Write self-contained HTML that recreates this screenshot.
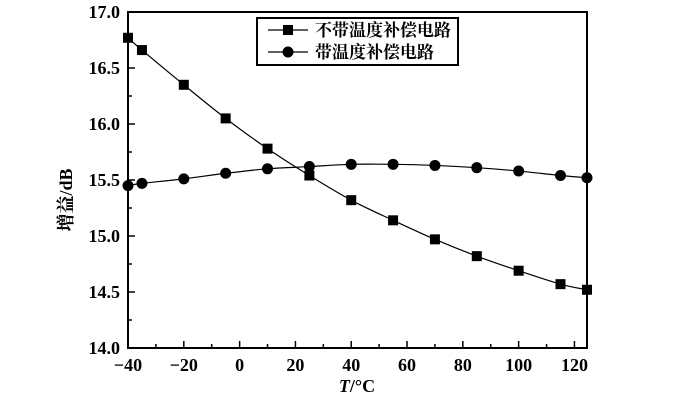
<!DOCTYPE html>
<html><head><meta charset="utf-8"><style>
body{margin:0;background:#fff;}
svg{display:block;font-family:"Liberation Serif","Noto Serif CJK SC",serif;}
</style></head><body>
<svg id="c" width="700" height="400" viewBox="0 0 700 400"></svg>
<script>
const temps=[-40,-35,-20,-5,10,25,40,55,70,85,100,115,124.5];
const gainNoComp=[16.77,16.66,16.35,16.05,15.78,15.54,15.32,15.14,14.97,14.82,14.69,14.57,14.52];
const gainComp=[15.45,15.47,15.51,15.56,15.60,15.62,15.64,15.64,15.63,15.61,15.58,15.54,15.52];
const xTicks=[-40,-20,0,20,40,60,80,100,120];
const yTicks=[14.0,14.5,15.0,15.5,16.0,16.5,17.0];
const seriesNames=["不带温度补偿电路","带温度补偿电路"];
const NS="http://www.w3.org/2000/svg";
const svg=document.getElementById('c');
const L=128,R=587,T=12,B=348,xMin=-40,xMax=124.5,yMin=14,yMax=17;
const sx=v=>L+(v-xMin)/(xMax-xMin)*(R-L);
const sy=v=>B-(v-yMin)/(yMax-yMin)*(B-T);
function mk(tag,attrs,parent){const e=document.createElementNS(NS,tag);for(const k in attrs)e.setAttribute(k,attrs[k]);(parent||svg).appendChild(e);return e;}
const frame=mk('rect',{x:L,y:T,width:R-L,height:B-T,fill:'none',stroke:'#000','stroke-width':2});


for(let v=-40;v<=120;v+=10){const x=sx(v);const major=v%20===0;
 const t=mk('line',{x1:x,x2:x,y1:B,y2:B-(major?7:4),stroke:'#000','stroke-width':1.5});
 
 }
xTicks.forEach(v=>{const t=mk('text',{x:sx(v),y:B+23,'text-anchor':'middle','font-size':18,'font-weight':'bold'});t.textContent=String(v).replace('-','−');
 
 });
for(let v=14;v<=17.001;v+=0.25){const y=sy(v);const major=Math.abs(v*2-Math.round(v*2))<0.01;
 const t=mk('line',{x1:L,x2:L+(major?7:4),y1:y,y2:y,stroke:'#000','stroke-width':1.5});
 
 }
yTicks.forEach(v=>{const t=mk('text',{x:L-8,y:sy(v)+6,'text-anchor':'end','font-size':18,'font-weight':'bold'});t.textContent=v.toFixed(1);
 
 });
const xt=mk('text',{x:357,y:392,'text-anchor':'middle','font-size':18,'font-weight':'bold'});
xt.innerHTML='<tspan font-style="italic">T</tspan>/°C';


const yt=mk('text',{x:0,y:0,'text-anchor':'middle','font-size':18,'font-weight':'bold',transform:'translate(72,200) rotate(-90)'});
yt.textContent='增益/dB';


function smooth(xs,ys){const p=xs.map((x,i)=>[sx(x),sy(ys[i])]);let d='M'+p[0][0]+','+p[0][1];
 for(let i=0;i<p.length-1;i++){const p0=p[i-1]||p[i],p1=p[i],p2=p[i+1],p3=p[i+2]||p2;
 d+=' C'+(p1[0]+(p2[0]-p0[0])/6)+','+(p1[1]+(p2[1]-p0[1])/6)+' '+(p2[0]-(p3[0]-p1[0])/6)+','+(p2[1]-(p3[1]-p1[1])/6)+' '+p2[0]+','+p2[1];}
 return d;}
const l1=mk('path',{d:smooth(temps,gainNoComp),fill:'none',stroke:'#000','stroke-width':1.2});


const l2=mk('path',{d:smooth(temps,gainComp),fill:'none',stroke:'#000','stroke-width':1.2});


temps.forEach((t,i)=>{const m=mk('rect',{x:sx(t)-5,y:sy(gainNoComp[i])-5,width:10,height:10,fill:'#000'});
 
 
 const c=mk('circle',{cx:sx(t),cy:sy(gainComp[i]),r:5.5,fill:'#000'});
 
 });
const lg=mk('g',{});


mk('rect',{x:257,y:18,width:201,height:47,fill:'#fff',stroke:'#000','stroke-width':2},lg);
seriesNames.forEach((n,i)=>{const y=30+i*22;
 const e=mk('g',{},lg);
 
 
 mk('line',{x1:268,x2:308,y1:y,y2:y,stroke:'#000','stroke-width':1.2},e);
 if(i===0)mk('rect',{x:283,y:y-5,width:10,height:10,fill:'#000'},e);else mk('circle',{cx:288,cy:y,r:5.5,fill:'#000'},e);
 const t=mk('text',{x:315,y:y+6,'font-size':17,'font-family':'"Noto Serif CJK SC","Noto Sans CJK SC",serif','font-weight':'bold'},e);t.textContent=n;});
</script>
</body></html>
